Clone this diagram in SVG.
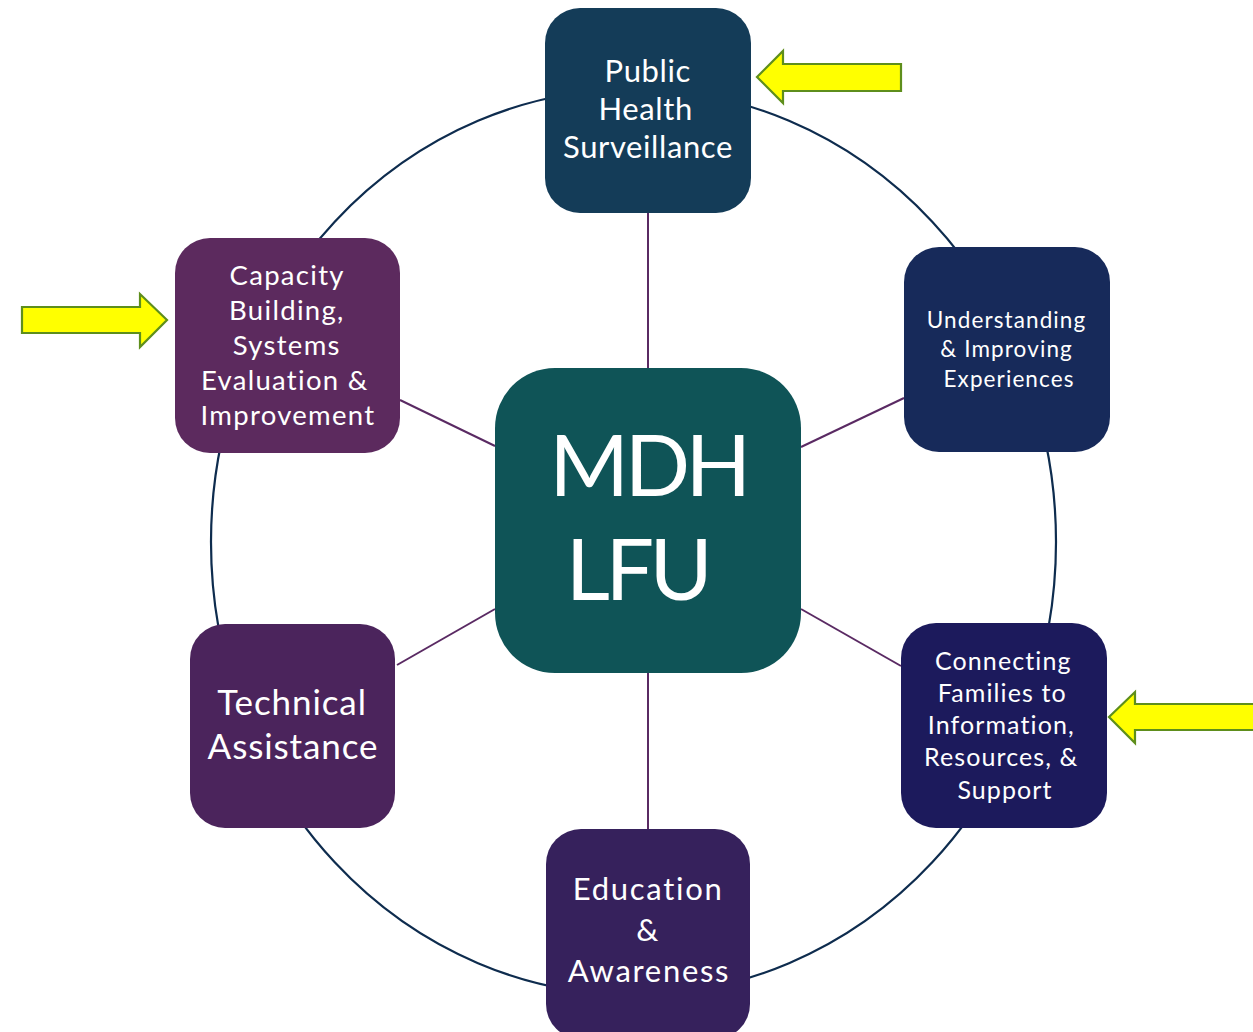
<svg xmlns="http://www.w3.org/2000/svg" width="1253" height="1032" viewBox="0 0 1253 1032">
  <style>
    .ring { fill: none; stroke: #0e2c4e; stroke-width: 2.2; }
    .spoke { stroke: #5a2a63; stroke-width: 2; }
    .lbl { fill: #ffffff; font-family: Lato, "Open Sans", sans-serif; text-anchor: middle; }
    .hint { fill: #ffff00; stroke: #5e8e1c; stroke-width: 2.2; stroke-linejoin: miter; }
  </style>
  <rect width="1253" height="1032" fill="#ffffff"/>

  <!-- outer ring -->
  <ellipse class="ring" cx="633.5" cy="542" rx="422.5" ry="453"/>

  <!-- spokes from the hub to each area -->
  <g id="connectors">
    <line class="spoke" x1="648" y1="213" x2="648" y2="368"/>
    <line class="spoke" x1="648" y1="673" x2="648" y2="829"/>
    <line class="spoke" x1="400" y1="400" x2="495" y2="446"/>
    <line class="spoke" x1="801" y1="447" x2="904" y2="398"/>
    <line class="spoke" x1="397" y1="665" x2="495" y2="609"/>
    <line class="spoke" x1="801" y1="609" x2="901" y2="666"/>
  </g>

  <g id="hub">
    <rect x="495" y="368" width="306" height="305" rx="60" fill="#0f5457"/>
    <text class="lbl" x="648" y="496" font-size="86" letter-spacing="-4.5">MDH</text>
    <text class="lbl" x="637" y="600" font-size="86" letter-spacing="-4.5">LFU</text>
  </g>

  <g id="surveillance">
    <rect x="545" y="8" width="206" height="205" rx="35" fill="#143c58"/>
    <text class="lbl" font-size="31" letter-spacing="0.6">
      <tspan x="652" y="82">Public</tspan>
      <tspan x="650" y="120">Health</tspan>
      <tspan x="648" y="158">Surveillance</tspan>
    </text>
  </g>

  <g id="experiences">
    <rect x="904" y="247" width="206" height="205" rx="35" fill="#172a5a"/>
    <text class="lbl" font-size="22.5" letter-spacing="1.1">
      <tspan x="1010" y="328">Understanding</tspan>
      <tspan x="1010" y="357">&amp; Improving</tspan>
      <tspan x="1009" y="387">Experiences</tspan>
    </text>
  </g>

  <g id="capacity">
    <rect x="175" y="238" width="225" height="215" rx="35" fill="#5c2a5e"/>
    <text class="lbl" font-size="27.5" letter-spacing="1.3">
      <tspan x="291" y="285">Capacity</tspan>
      <tspan x="291" y="320">Building,</tspan>
      <tspan x="291" y="355">Systems</tspan>
      <tspan x="289" y="390">Evaluation &amp;</tspan>
      <tspan x="288" y="425">Improvement</tspan>
    </text>
  </g>

  <g id="technical">
    <rect x="190" y="624" width="205" height="204" rx="35" fill="#4b245c"/>
    <text class="lbl" font-size="35" letter-spacing="0.9">
      <tspan x="297" y="715">Technical</tspan>
      <tspan x="293" y="759">Assistance</tspan>
    </text>
  </g>

  <g id="education">
    <rect x="546" y="829" width="204" height="210" rx="35" fill="#36215c"/>
    <text class="lbl" font-size="31" letter-spacing="1.7">
      <tspan x="653" y="900">Education</tspan>
      <tspan x="653" y="941">&amp;</tspan>
      <tspan x="649" y="982">Awareness</tspan>
    </text>
  </g>

  <g id="connecting">
    <rect x="901" y="623" width="206" height="205" rx="35" fill="#1c1a5c"/>
    <text class="lbl" font-size="25" letter-spacing="1.1">
      <tspan x="1007" y="670">Connecting</tspan>
      <tspan x="1006" y="702">Families to</tspan>
      <tspan x="1005" y="734">Information,</tspan>
      <tspan x="1005" y="766">Resources, &amp;</tspan>
      <tspan x="1005" y="799">Support</tspan>
    </text>
  </g>

  <!-- highlight arrows -->
  <g id="arrow-surveillance">
    <polygon class="hint" points="757,77 783,51 783,64 901,64 901,91 783,91 783,103"/>
  </g>
  <g id="arrow-capacity">
    <polygon class="hint" points="167,320 140,294 140,307 22,307 22,333 140,333 140,347"/>
  </g>
  <g id="arrow-connecting">
    <polygon class="hint" points="1109,717 1135,692 1135,704 1256,704 1256,730 1135,730 1135,743"/>
  </g>
</svg>
